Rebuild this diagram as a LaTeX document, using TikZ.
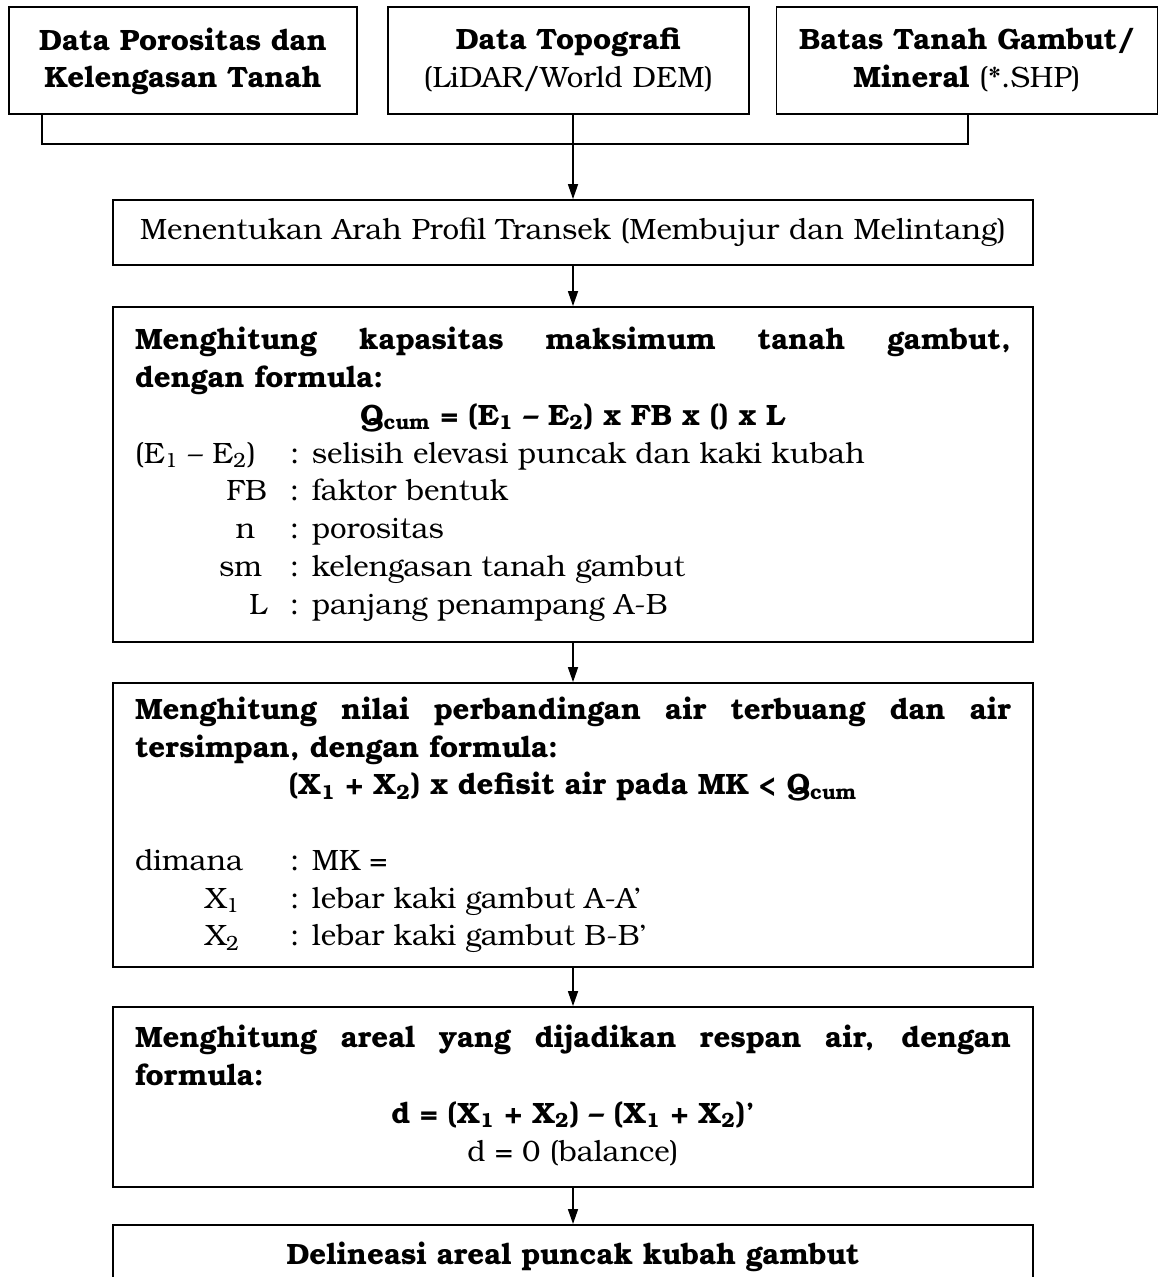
\documentclass[tikz,border=0pt]{standalone}
\usepackage{fontspec}
\setmainfont{TeX Gyre Bonum}
\usetikzlibrary{arrows.meta}
\newcommand\bsz{\fontsize{14.7pt}{18.875pt}\selectfont}
\newcommand\lab[1]{\makebox[66pt][r]{#1}\hspace{11.5pt}}
\begin{document}
\begin{tikzpicture}[x=0.5pt,y=-0.5pt,
  box/.style={draw, line width=0.9pt, inner xsep=0pt, inner ysep=0pt, font=\bsz},
  topbox/.style={box, align=center, minimum height=53.5pt},
  bigbox/.style={box, align=justify, inner xsep=11pt, text width=438pt, minimum width=460pt},
  arr/.style={line width=0.8pt, -{Triangle[width=5pt,length=7.5pt]}},
  ln/.style={line width=0.8pt}]
\useasboundingbox (0,0) rectangle (1159,1277);
\clip (0,0) rectangle (1159,1277);
% top boxes
\node[topbox, minimum width=174pt, text width=166pt] (b1) at (183,60.5)
  {\textbf{Data Porositas dan}\\\textbf{Kelengasan Tanah}\\[-16pt]\mbox{}};
\node[topbox, minimum width=180.5pt, text width=172pt] (b2) at (568.5,60.5)
  {\textbf{Data Topografi}\\(LiDAR/World DEM)\\[-16pt]\mbox{}};
\node[topbox, minimum width=190.5pt, text width=182pt] (b3) at (967,60.5)
  {\textbf{Batas Tanah Gambut/}\\\textbf{Mineral} (*.SHP)\\[-16pt]\mbox{}};
% process boxes
\node[box, align=center, minimum width=460pt, minimum height=32.5pt, text width=444pt] (b4) at (573,232.5)
  {Menentukan Arah Profil Transek (Membujur dan Melintang)};
\node[bigbox, minimum height=167.5pt] (b5) at (573,474.5) {%
\noindent\strut\textbf{Menghitung kapasitas maksimum tanah gambut,\linebreak dengan formula:}\par
{\centering\textbf{Q\textsubscript{cum} = (E\textsubscript{1} – E\textsubscript{2}) x FB x () x L}\par}
\noindent\makebox[66pt][l]{(E\textsubscript{1} – E\textsubscript{2})}\hspace{11.5pt}: selisih elevasi puncak dan kaki kubah\par
\noindent\lab{FB}: faktor bentuk\par
\noindent\lab{n\hspace{6pt}}: porositas\par
\noindent\lab{sm\hspace{2.5pt}}: kelengasan tanah gambut\par
\noindent\lab{L}: panjang penampang A-B\strut\par};
\node[bigbox, minimum height=142pt] (b6) at (573,825) {%
\noindent\strut\textbf{Menghitung nilai perbandingan air terbuang dan air\linebreak tersimpan, dengan formula:}\par
{\centering\textbf{(X\textsubscript{1} + X\textsubscript{2}) x defisit air pada MK < Q\textsubscript{cum}}\par}
\noindent\mbox{}\par
\noindent\makebox[77.5pt][l]{dimana}: MK =\par
\noindent\makebox[77.5pt][l]{\hspace{35pt}X\textsubscript{1}}: lebar kaki gambut A-A’\par
\noindent\makebox[77.5pt][l]{\hspace{35pt}X\textsubscript{2}}: lebar kaki gambut B-B’\strut\par};
\node[bigbox, minimum height=90pt] (b7) at (573,1097) {%
\noindent\strut\textbf{Menghitung areal yang dijadikan respan air, dengan\linebreak formula:}\par
{\centering\textbf{d = (X\textsubscript{1} + X\textsubscript{2}) – (X\textsubscript{1} + X\textsubscript{2})’}\par}
{\centering d = 0 (balance)\strut\par}};
\node[box, align=center, anchor=north, minimum width=460pt, minimum height=32pt, text width=444pt] (b8) at (573,1224)
  {\textbf{Delineasi areal puncak kubah gambut}};
% connectors
\coordinate (j1) at (42,144);
\coordinate (j3) at (968,144);
\draw[ln] (b1.south -| j1) -- (j1) -- (j3) -- (b3.south -| j3);
\draw[arr] (b2.south -| b4.north) -- (b4.north);
\draw[arr] (b4.south) -- (b5.north);
\draw[arr] (b5.south) -- (b6.north);
\draw[arr] (b6.south) -- (b7.north);
\draw[arr] (b7.south) -- (b8.north);
\end{tikzpicture}
\end{document}
